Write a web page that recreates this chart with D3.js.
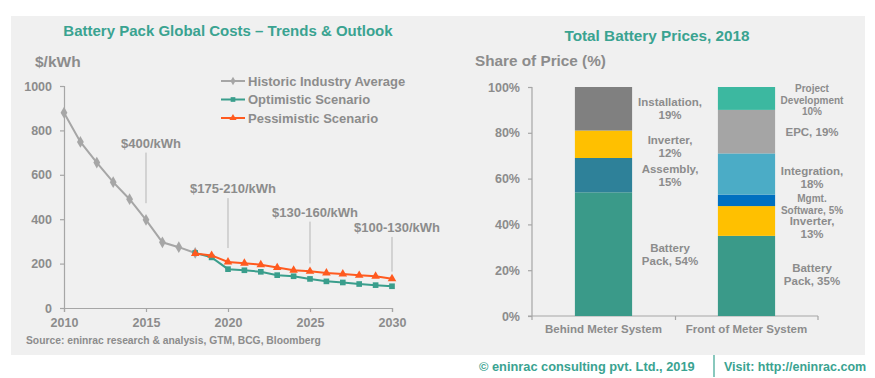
<!DOCTYPE html>
<html><head><meta charset="utf-8">
<script src="https://cdn.jsdelivr.net/npm/d3@7"></script>
<style>
body{margin:0;background:#fff;}
svg text{font-family:"Liberation Sans",Arial,sans-serif;font-weight:bold;}
</style></head>
<body><svg id="c" width="875" height="378"></svg>
<script>
// ---- Data ----
const histYears = [2010,2011,2012,2013,2014,2015,2016,2017,2018];
const histValues = [880,748,655,567,490,397,296,274,248];
const scenYears = [2018,2019,2020,2021,2022,2023,2024,2025,2026,2027,2028,2029,2030];
const optValues = [248,228,175,170,163,148,143,131,120,115,108,103,98];
const pesValues = [245,237,207,202,195,182,170,165,158,153,147,143,132];
const yTicks = [0,200,400,600,800,1000];
const xTicks = [2010,2015,2020,2025,2030];
const annoLabels = ["$400/kWh","$175-210/kWh","$130-160/kWh","$100-130/kWh"];
const annoYears = [2015,2020,2025,2030];
const annoTop = [700,495,389,320];
const annoBottom = [472,270,201,164];
const legendNames = ["Historic Industry Average","Optimistic Scenario","Pessimistic Scenario"];

const barCats = ["Behind Meter System","Front of Meter System"];
const behindParts = ["Battery Pack","Assembly","Inverter","Installation"];
const behindValues = [54,15,12,19];
const frontParts = ["Battery Pack","Inverter","Mgmt. Software","Integration","EPC","Project Development"];
const frontValues = [35,13,5,18,19,10];
const pctTicks = [0,20,40,60,80,100];

const gray = "#8c8c8c", teal = "#3aa391";
const svg = d3.select("#c");
svg.append("rect").attr("x",11).attr("y",16).attr("width",854).attr("height",339).attr("fill","#f0f0f0");

// ---- Left chart ----
const x = d3.scaleLinear().domain([2010,2030]).range([64,392]);
const y = d3.scaleLinear().domain([0,1000]).range([308,86]);
svg.append("text").attr("x",228).attr("y",36).attr("text-anchor","middle").attr("fill",teal).attr("font-size",15).text("Battery Pack Global Costs – Trends & Outlook");
svg.append("text").attr("x",35).attr("y",67).attr("fill",gray).attr("font-size",15.5).text("$/kWh");

const yAx = svg.append("g").attr("transform","translate(64,0)").call(d3.axisLeft(y).tickValues(yTicks).tickFormat(d3.format("d")).tickSize(4).tickPadding(8));
const xAx = svg.append("g").attr("transform","translate(0,308)").call(d3.axisBottom(x).tickValues(xTicks).tickFormat(d3.format("d")).tickSize(4).tickPadding(6));
[yAx,xAx].forEach(g=>{
  g.selectAll("path,line").attr("stroke","#a6a6a6").attr("stroke-width",1.2);
  g.selectAll("text").attr("fill",gray).attr("font-size",12.5);
});

// annotations
annoLabels.forEach((t,i)=>{
  const ax = x(annoYears[i]);
  svg.append("line").attr("x1",ax).attr("x2",ax).attr("y1",y(annoTop[i])).attr("y2",y(annoBottom[i])).attr("stroke","#b5b5b5").attr("stroke-width",1);
  svg.append("text").attr("x",ax+5).attr("y",y(annoTop[i])-5).attr("text-anchor","middle").attr("fill",gray).attr("font-size",13).text(t);
});

const line = d3.line();
function series(xs,vs,color,shape,size){
  const pts = xs.map((d,i)=>[x(d),y(vs[i])]);
  svg.append("path").attr("d",line(pts)).attr("fill","none").attr("stroke",color).attr("stroke-width",2);
  svg.selectAll(null).data(pts).enter().append("path")
    .attr("transform",d=>`translate(${d[0]},${d[1]})`)
    .attr("d",d3.symbol().type(shape).size(size)).attr("fill",color);
}
series(histYears,histValues,"#a6a6a6",d3.symbolDiamond,40);
series(scenYears,optValues,"#3a9e8c",d3.symbolSquare,32);
series(scenYears,pesValues,"#ff5a1f",d3.symbolTriangle,32);

const legColors = ["#a6a6a6","#3a9e8c","#ff5a1f"];
const legShapes = [d3.symbolDiamond,d3.symbolSquare,d3.symbolTriangle];
legendNames.forEach((n,i)=>{
  const ly = 81 + i*18.5;
  svg.append("line").attr("x1",221).attr("x2",245).attr("y1",ly).attr("y2",ly).attr("stroke",legColors[i]).attr("stroke-width",2);
  svg.append("path").attr("transform",`translate(233,${ly})`).attr("d",d3.symbol().type(legShapes[i]).size(22)).attr("fill",legColors[i]);
  svg.append("text").attr("x",248).attr("y",ly+4.5).attr("fill",gray).attr("font-size",13).text(n);
});
svg.append("text").attr("x",26).attr("y",344).attr("fill",gray).attr("font-size",10.3).text("Source: eninrac research & analysis, GTM, BCG, Bloomberg");

// ---- Right chart ----
svg.append("text").attr("x",657).attr("y",41).attr("text-anchor","middle").attr("fill",teal).attr("font-size",15.3).text("Total Battery Prices, 2018");
svg.append("text").attr("x",475).attr("y",66).attr("fill",gray).attr("font-size",15.3).text("Share of Price (%)");
const xb = d3.scaleBand().domain(barCats).range([532,818]).paddingInner(0.6).paddingOuter(0.3);
const yb = d3.scaleLinear().domain([0,100]).range([316,87]);
const ybAx = svg.append("g").attr("transform","translate(532,0)").call(d3.axisLeft(yb).tickValues(pctTicks).tickFormat(d=>d+"%").tickSize(4).tickPadding(8));
ybAx.select(".domain").remove();
svg.append("line").attr("x1",532).attr("x2",532).attr("y1",yb(100)).attr("y2",yb(0)).attr("stroke","#a6a6a6").attr("stroke-width",1.2);
svg.append("line").attr("x1",528).attr("x2",818).attr("y1",yb(0)).attr("y2",yb(0)).attr("stroke","#a6a6a6").attr("stroke-width",1.2);
[532,675.5,818].forEach(tx=>svg.append("line").attr("x1",tx).attr("x2",tx).attr("y1",yb(0)).attr("y2",yb(0)+4).attr("stroke","#a6a6a6").attr("stroke-width",1.2));
ybAx.selectAll("line").attr("stroke","#a6a6a6").attr("stroke-width",1.2);
ybAx.selectAll("text").attr("fill",gray).attr("font-size",12.5);
barCats.forEach(c=>svg.append("text").attr("x",xb(c)+xb.bandwidth()/2).attr("y",333).attr("text-anchor","middle").attr("fill",gray).attr("font-size",11.5).text(c));

const behindColors = ["#3a9a89","#2e8199","#ffc000","#808080"];
const frontColors = ["#3a9a89","#ffc000","#0070c0","#4bacc6","#a5a5a5","#3cb8a0"];
const behindLabels = [["Battery","Pack, 54%"],["Assembly,","15%"],["Inverter,","12%"],["Installation,","19%"]];
const frontLabels = [["Battery","Pack, 35%"],["Inverter,","13%"],["Mgmt.","Software, 5%"],["Integration,","18%"],["EPC, 19%"],["Project","Development","10%"]];
const behindLabelY = [248,169,140,102];
const frontLabelY = [268,221,198,171,132,88];
const behindLabelX = 670, frontLabelX = 812;

function stack(cat,vals,colors,labels,labelY,lx,smallIdx){
  let cum = 0;
  vals.forEach((v,i)=>{
    svg.append("rect").attr("x",xb(cat)).attr("width",xb.bandwidth()).attr("y",yb(cum+v)).attr("height",yb(cum)-yb(cum+v)).attr("fill",colors[i]);
    cum += v;
    const small = smallIdx.includes(i);
    const t = svg.append("text").attr("text-anchor","middle").attr("fill",gray).attr("font-size",small?10:11.5);
    labels[i].forEach((s,j)=>t.append("tspan").attr("x",lx).attr("y",labelY[i]+4+j*(small?11.5:13)).text(s));
  });
}
stack(barCats[0],behindValues,behindColors,behindLabels,behindLabelY,behindLabelX,[]);
stack(barCats[1],frontValues,frontColors,frontLabels,frontLabelY,frontLabelX,[2,5]);

// footer
svg.append("text").attr("x",479).attr("y",371).attr("fill",teal).attr("font-size",12.8).text("© eninrac consulting pvt. Ltd., 2019");
svg.append("line").attr("x1",714).attr("x2",714).attr("y1",355).attr("y2",377).attr("stroke",teal).attr("stroke-width",1.2);
svg.append("text").attr("x",724).attr("y",371).attr("fill",teal).attr("font-size",12.5).text("Visit: http://eninrac.com");
</script></body></html>
